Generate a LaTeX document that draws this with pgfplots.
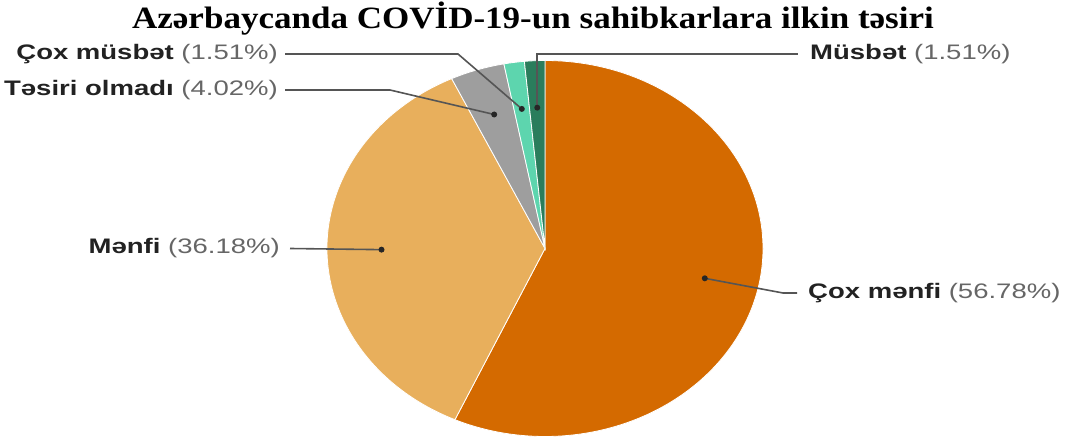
\documentclass[border=0pt]{standalone}
\usepackage{pgfplots}
\pgfplotsset{compat=1.18}
\usepackage{pgfplotstable}
\usepackage{fontspec}
\setmainfont{Liberation Sans}
\newfontfamily\titlefont{Liberation Serif}
\definecolor{cA}{HTML}{D46A00}
\definecolor{cB}{HTML}{E8AF5C}
\definecolor{cC}{HTML}{9E9E9E}
\definecolor{cD}{HTML}{5DD5AE}
\definecolor{cE}{HTML}{2A7D5C}
\definecolor{labdark}{HTML}{222222}
\definecolor{labgray}{HTML}{666666}
\definecolor{leader}{HTML}{555555}
\pgfplotstableread{
slice value
1 56.78
2 36.18
3 4.02
4 1.51
5 1.51
}\piedata
\newcommand\lab[2]{\scalebox{1.31}[1]{\fontsize{21}{24}\selectfont\textbf{\color{labdark}#1} {\color{labgray}(#2\%)}}}
\begin{document}%
\pgfplotstablegetelem{0}{value}\of\piedata\let\vA\pgfplotsretval%
\pgfplotstablegetelem{1}{value}\of\piedata\let\vB\pgfplotsretval%
\pgfplotstablegetelem{2}{value}\of\piedata\let\vC\pgfplotsretval%
\pgfplotstablegetelem{3}{value}\of\piedata\let\vD\pgfplotsretval%
\pgfplotstablegetelem{4}{value}\of\piedata\let\vE\pgfplotsretval%
\pgfmathsetmacro\aA{90}%
\pgfmathsetmacro\aB{\aA-3.6*\vA}%
\pgfmathsetmacro\aC{\aB-3.6*\vB}%
\pgfmathsetmacro\aD{\aC-3.6*\vC}%
\pgfmathsetmacro\aE{\aD-3.6*\vD}%
\pgfmathsetmacro\aF{\aE-3.6*\vE}%
\pgfmathsetmacro\mA{(\aA+\aB)/2}%
\pgfmathsetmacro\mB{(\aB+\aC)/2}%
\pgfmathsetmacro\mC{(\aC+\aD)/2}%
\pgfmathsetmacro\mD{(\aD+\aE)/2}%
\pgfmathsetmacro\mE{(\aE+\aF)/2}%
\begin{tikzpicture}
\begin{axis}[
  name=main,
  scale only axis, width=1065pt, height=439pt,
  xmin=0, xmax=1065, ymin=0, ymax=439,
  hide axis, clip=false]
% slices
\def\cx{545}\def\cy{190.5}
\filldraw[fill=cA, draw=white, line width=0.8pt] (axis cs:\cx,\cy) -- +(\aA:218pt and 188pt) arc[start angle=\aA, end angle=\aB, x radius=218pt, y radius=188pt] -- cycle;
\filldraw[fill=cB, draw=white, line width=0.8pt] (axis cs:\cx,\cy) -- +(\aB:218pt and 188pt) arc[start angle=\aB, end angle=\aC, x radius=218pt, y radius=188pt] -- cycle;
\filldraw[fill=cC, draw=white, line width=0.8pt] (axis cs:\cx,\cy) -- +(\aC:218pt and 188pt) arc[start angle=\aC, end angle=\aD, x radius=218pt, y radius=188pt] -- cycle;
\filldraw[fill=cD, draw=white, line width=0.8pt] (axis cs:\cx,\cy) -- +(\aD:218pt and 188pt) arc[start angle=\aD, end angle=\aE, x radius=218pt, y radius=188pt] -- cycle;
\filldraw[fill=cE, draw=white, line width=0.8pt] (axis cs:\cx,\cy) -- +(\aE:218pt and 188pt) arc[start angle=\aE, end angle=\aF, x radius=218pt, y radius=188pt] -- cycle;
% leader lines
\draw[leader, line width=1.6pt] (axis cs:\cx,\cy) ++(\mA:163.5pt and 141pt) -- (axis cs:783,146) -- (axis cs:797,146);
\draw[leader, line width=1.6pt] (axis cs:\cx,\cy) ++(\mB:163.5pt and 141pt) -- (axis cs:290,\cy);
\draw[leader, line width=1.6pt] (axis cs:\cx,\cy) ++(\mC:163.5pt and 141pt) -- (axis cs:390,349) -- (axis cs:285,349);
\draw[leader, line width=1.6pt] (axis cs:\cx,\cy) ++(\mD:163.5pt and 141pt) -- (axis cs:458,385) -- (axis cs:285,385);
\draw[leader, line width=1.6pt] (axis cs:\cx,\cy) ++(\mE:163.5pt and 141pt) |- (axis cs:798,385);
% dots
\fill[black!85] (axis cs:\cx,\cy) ++(\mA:163.5pt and 141pt) circle[radius=3pt];
\fill[black!85] (axis cs:\cx,\cy) ++(\mB:163.5pt and 141pt) circle[radius=3pt];
\fill[black!85] (axis cs:\cx,\cy) ++(\mC:163.5pt and 141pt) circle[radius=3pt];
\fill[black!85] (axis cs:\cx,\cy) ++(\mD:163.5pt and 141pt) circle[radius=3pt];
\fill[black!85] (axis cs:\cx,\cy) ++(\mE:163.5pt and 141pt) circle[radius=3pt];
% labels
\node[anchor=west, inner sep=0] at (axis cs:808,146) {\lab{Çox mənfi}{56.78}};
\node[anchor=east, inner sep=0] at (axis cs:280,\cy) {\lab{Mənfi}{36.18}};
\node[anchor=east, inner sep=0] at (axis cs:278,349) {\lab{Təsiri olmadı}{4.02}};
\node[anchor=east, inner sep=0] at (axis cs:278,385) {\lab{Çox müsbət}{1.51}};
\node[anchor=west, inner sep=0] at (axis cs:810,385) {\lab{Müsbət}{1.51}};
% title
\node[inner sep=0, anchor=base] at (axis cs:533,410) {\scalebox{1.13}[1]{\titlefont\bfseries\fontsize{31}{34}\selectfont Azərbaycanda COVİD-19-un sahibkarlara ilkin təsiri}};
\end{axis}
\pgfresetboundingbox
\path[use as bounding box] (main.south west) rectangle (main.north east);
\end{tikzpicture}%
\end{document}
